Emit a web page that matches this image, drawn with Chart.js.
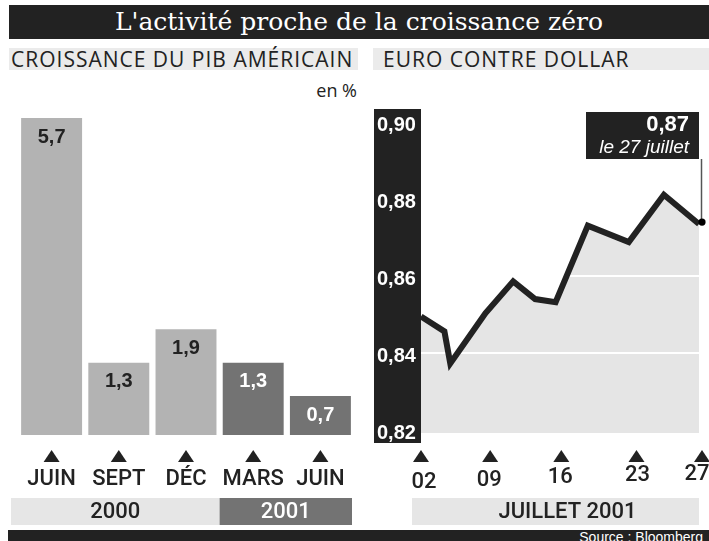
<!DOCTYPE html>
<html>
<head>
<meta charset="utf-8">
<script src="https://cdn.jsdelivr.net/npm/chart.js@4"></script>
<style>
  html, body { margin:0; padding:0; background:#fff; }
  #page { position:relative; width:709px; height:541px; overflow:hidden; background:#fff; }
  .abs { position:absolute; }
  #title { left:9px; top:5px; width:700px; height:34px; background:#222; color:#fff;
    font:25px "DejaVu Serif", serif; line-height:34px; text-align:center; white-space:nowrap; }
  .sub { top:48px; height:22px; background:#ebebeb; color:#222; font:21px "Open Sans", sans-serif;
    letter-spacing:1px; line-height:22px; white-space:nowrap; }
  #subL { left:9px; width:349px; padding-left:2px; box-sizing:border-box; }
  #subR { left:373px; width:336px; padding-left:10px; box-sizing:border-box; }
  #unit { left:300px; width:57px; top:78px; text-align:right; font:18px "Open Sans", sans-serif; color:#222; }
  #footer { left:8px; top:530px; width:701px; height:11px; background:#222; overflow:hidden; }
  #source { position:absolute; right:6px; top:-1px; color:#fff; font:14px "Liberation Sans", Arial, sans-serif; line-height:16px; white-space:nowrap; }
  canvas { position:absolute; left:0; top:0; }
</style>
</head>
<body>
<div id="page">
  <div id="title" class="abs">L'activité proche de la croissance zéro</div>
  <div id="subL" class="abs sub">CROISSANCE DU PIB AMÉRICAIN</div>
  <div id="subR" class="abs sub">EURO CONTRE DOLLAR</div>
  <div id="unit" class="abs">en %</div>
  <div id="footer" class="abs"><div id="source">Source : Bloomberg</div></div>
  <canvas id="bars" width="709" height="541"></canvas>
  <canvas id="euro" width="709" height="541"></canvas>
</div>
<script>
// ---------- DATA ----------
const months = ['JUIN', 'SEPT', 'DÉC', 'MARS', 'JUIN'];
const monthYears = ['2000', '2000', '2000', '2001', '2001'];
const growth = [5.7, 1.3, 1.9, 1.3, 0.7];
const years = ['2000', '2001'];

// x = trading-day index in July 2001 (0 = 2 July, 19 = 27 July)
const euroDay  = [0, 1.6, 2.0, 4.4, 6.3, 7.8, 9.2, 11.4, 14.2, 16.6, 19];
const euroRate = [0.8494, 0.8455, 0.8372, 0.8502, 0.8585, 0.8539, 0.8531, 0.8730, 0.8687, 0.8810, 0.8734];
const dateTickDay = [0, 5, 10, 15, 19];
const dateTickLabels = ['02', '09', '16', '23', '27'];
const euroTicks = [0.82, 0.84, 0.86, 0.88, 0.90];
const euroGrid = [0.84, 0.86];
const periodLabel = 'JUILLET 2001';
const lastDateLabel = 'le 27 juillet';

// ---------- STYLE CONSTANTS ----------
const DARK = '#222';
const LIGHT_BAR = '#b3b3b3';
const DARK_BAR = '#737373';
const BAND = '#e6e6e6';
const SANS = '"Liberation Sans", Arial, Helvetica, sans-serif';
const MED = '500 22px Roboto, "Liberation Sans", Arial, sans-serif';
const dateLabelDy = [4, 2, -1, -3, -4];
const dateLabelDx = [3, -5, -7, -3, -2];
const dateArrowDx = [0, -4, -6, -4, 3];

const fmt = (v, d) => v.toFixed(d).replace('.', ',');

function tri(ctx, x, yBase) {
  ctx.beginPath();
  ctx.moveTo(x - 8, yBase);
  ctx.lineTo(x + 8, yBase);
  ctx.lineTo(x, yBase - 12);
  ctx.closePath();
  ctx.fillStyle = DARK;
  ctx.fill();
}

// ---------- BAR CHART ----------
const barDeco = {
  id: 'barDeco',
  afterDatasetsDraw(chart) {
    const ctx = chart.ctx, ca = chart.chartArea;
    const meta = chart.getDatasetMeta(0);
    const xs = chart.scales.x;
    ctx.save();
    ctx.textAlign = 'center';
    ctx.textBaseline = 'middle';
    meta.data.forEach((bar, i) => {
      const dark = monthYears[i] !== years[0];
      ctx.fillStyle = dark ? '#fff' : DARK;
      ctx.font = 'bold 20px ' + SANS;
      ctx.fillText(fmt(growth[i], 1), bar.x, bar.y + 19);
      tri(ctx, bar.x, ca.bottom + 27);
      ctx.fillStyle = DARK;
      ctx.font = MED;
      ctx.fillText(months[i], bar.x, ca.bottom + 44);
    });
    // year bands
    years.forEach((yr, k) => {
      const idx = monthYears.map((m, i) => m === yr ? i : -1).filter(i => i >= 0);
      const first = idx[0], last = idx[idx.length - 1];
      const left = first === 0 ? ca.left - 7 : (xs.getPixelForValue(first) + xs.getPixelForValue(first - 1)) / 2;
      const right = last === months.length - 1 ? ca.right - 2 : (xs.getPixelForValue(last) + xs.getPixelForValue(last + 1)) / 2;
      const top = ca.bottom + 63, h = 27;
      ctx.fillStyle = k === 0 ? BAND : DARK_BAR;
      ctx.fillRect(left, top, right - left, h);
      ctx.fillStyle = k === 0 ? DARK : '#fff';
      ctx.font = MED;
      ctx.fillText(yr, (left + right) / 2, top + h / 2 + 1);
    });
    ctx.restore();
  }
};

new Chart(document.getElementById('bars'), {
  type: 'bar',
  data: {
    labels: months,
    datasets: [{
      data: growth,
      backgroundColor: monthYears.map(y => y === years[0] ? LIGHT_BAR : DARK_BAR),
      borderWidth: 0,
      categoryPercentage: 1,
      barPercentage: 0.907
    }]
  },
  options: {
    responsive: false,
    animation: false,
    devicePixelRatio: 1,
    layout: { padding: { left: 18, right: 355, top: 101.4, bottom: 106 } },
    scales: {
      x: { display: false },
      y: { display: false, min: 0, max: 6 }
    },
    plugins: { legend: { display: false }, tooltip: { enabled: false }, title: { display: false } }
  },
  plugins: [barDeco]
});

// ---------- LINE CHART ----------
const euroDeco = {
  id: 'euroDeco',
  beforeDraw(chart) {
    const ctx = chart.ctx, ca = chart.chartArea;
    ctx.save();
    ctx.fillStyle = DARK;
    ctx.fillRect(ca.left - 47, ca.top, 47, ca.bottom - ca.top + 10);
    ctx.restore();
  },
  beforeDatasetsDraw(chart) {
    const ctx = chart.ctx, ca = chart.chartArea, ys = chart.scales.y;
    ctx.save();
    ctx.strokeStyle = '#fff';
    ctx.lineWidth = 2;
    euroGrid.forEach(v => {
      const y = Math.round(ys.getPixelForValue(v));
      ctx.beginPath();
      ctx.moveTo(ca.left, y);
      ctx.lineTo(ca.right, y);
      ctx.stroke();
    });
    ctx.restore();
  },
  afterDatasetsDraw(chart) {
    const ctx = chart.ctx, ca = chart.chartArea;
    const xs = chart.scales.x, ys = chart.scales.y;
    ctx.save();
    // y tick labels
    ctx.fillStyle = '#fff';
    ctx.font = 'bold 20px ' + SANS;
    ctx.textAlign = 'left';
    ctx.textBaseline = 'middle';
    euroTicks.forEach(v => {
      ctx.fillText(fmt(v, 2), ca.left - 44, ys.getPixelForValue(v) + 4);
    });
    // x ticks
    ctx.textAlign = 'center';
    dateTickDay.forEach((d, i) => {
      const x = xs.getPixelForValue(d);
      tri(ctx, x + dateArrowDx[i], ca.bottom + 29);
      ctx.fillStyle = DARK;
      ctx.font = MED;
      ctx.fillText(dateTickLabels[i], x + dateLabelDx[i], ca.bottom + 45 + dateLabelDy[i]);
    });
    // period band
    const bl = ca.left - 9, br = ca.right, bt = ca.bottom + 65, bh = 27;
    ctx.fillStyle = BAND;
    ctx.fillRect(bl, bt, br - bl, bh);
    ctx.fillStyle = DARK;
    ctx.font = MED;
    ctx.fillText(periodLabel, (bl + br) / 2 + 12, bt + bh / 2 + 1);
    // annotation of last value
    const meta = chart.getDatasetMeta(0);
    const last = meta.data[meta.data.length - 1];
    const dotX = last.x + 3, dotY = last.y - 2;
    const boxR = ca.right, boxL = boxR - 113, boxT = ca.top + 3, boxB = boxT + 47;
    ctx.strokeStyle = '#555';
    ctx.lineWidth = 1.5;
    ctx.beginPath();
    ctx.moveTo(dotX - 0.5, boxB);
    ctx.lineTo(dotX - 0.5, dotY);
    ctx.stroke();
    ctx.fillStyle = DARK;
    ctx.fillRect(boxL, boxT, boxR - boxL, boxB - boxT);
    ctx.fillStyle = '#000';
    ctx.beginPath();
    ctx.arc(dotX, dotY, 3.6, 0, Math.PI * 2);
    ctx.fill();
    ctx.fillStyle = '#fff';
    ctx.textAlign = 'right';
    ctx.font = 'bold 22px ' + SANS;
    ctx.fillText(fmt(euroRate[euroRate.length - 1], 2), boxR - 10, boxT + 13);
    ctx.font = 'italic 19px ' + SANS;
    ctx.fillText(lastDateLabel, boxR - 10, boxT + 36);
    ctx.restore();
  }
};

new Chart(document.getElementById('euro'), {
  type: 'line',
  data: {
    datasets: [{
      data: euroDay.map((d, i) => ({ x: d, y: euroRate[i] })),
      borderColor: DARK,
      borderWidth: 6,
      borderJoinStyle: 'miter',
      borderCapStyle: 'butt',
      backgroundColor: '#e5e5e5',
      fill: 'start',
      pointRadius: 0,
      tension: 0
    }]
  },
  options: {
    responsive: false,
    animation: false,
    devicePixelRatio: 1,
    layout: { padding: { left: 421, right: 10, top: 109, bottom: 108 } },
    scales: {
      x: { type: 'linear', display: false, min: 0, max: 19 },
      y: { display: false, min: 0.8191, max: 0.9033 }
    },
    plugins: {
      legend: { display: false }, tooltip: { enabled: false }, title: { display: false },
      filler: { drawTime: 'beforeDatasetsDraw' }
    }
  },
  plugins: [euroDeco]
});
</script>
</body>
</html>
